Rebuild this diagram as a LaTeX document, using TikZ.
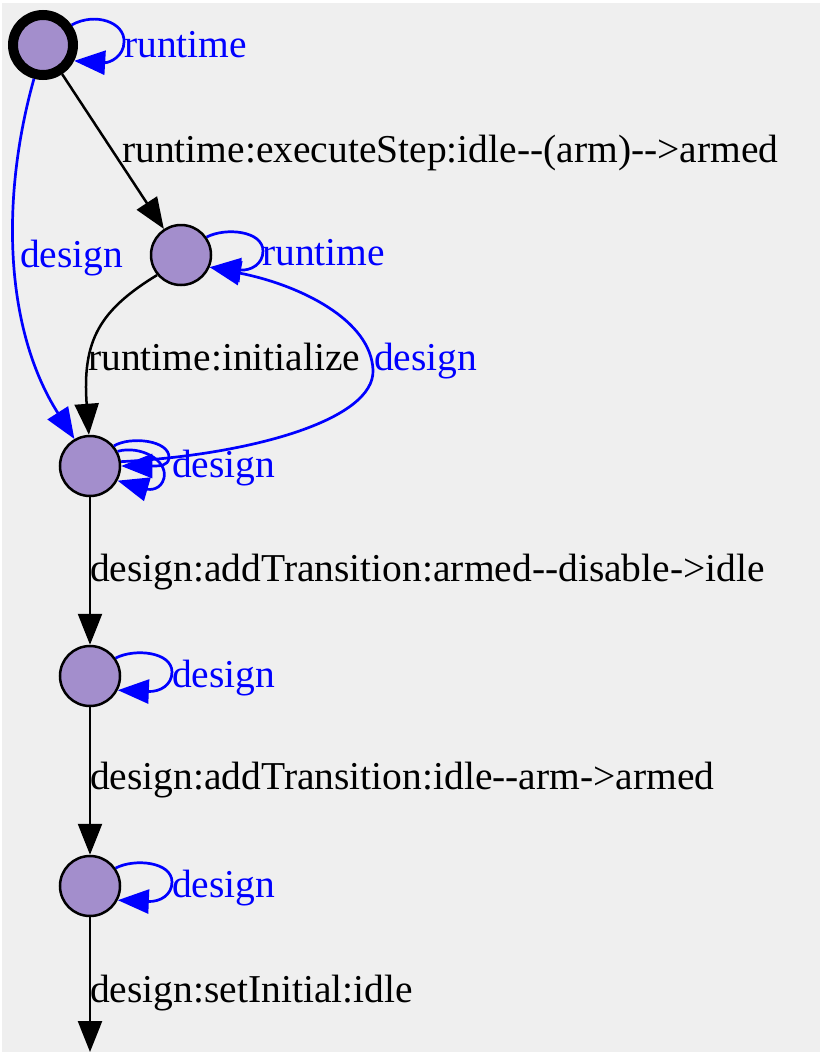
\documentclass[tikz,border=0pt]{standalone}
\usepackage{fontspec}
\setmainfont{Liberation Serif}[Ligatures=TeXOff]
\usetikzlibrary{arrows.meta}
\definecolor{bg}{HTML}{EFEFEF}
\definecolor{nodefill}{HTML}{A38ECC}
\begin{document}
\begin{tikzpicture}[x=1pt,y=-1pt,
  state/.style={circle,draw=black,fill=nodefill,line width=2.5pt,minimum size=60pt,inner sep=0pt},
  initstate/.style={state,line width=10pt},
  lbl/.style={font=\fontsize{39.5}{40}\selectfont,inner sep=0pt,anchor=base west},
  blbl/.style={lbl,text=blue},
  tip/.style={-{Triangle[length=31pt,width=24pt]}},
  blk/.style={tip,draw=black,line width=2.5pt},
  blu/.style={tip,draw=blue,line width=2.7pt},
]
\useasboundingbox (0,0) rectangle (823,1052);
\fill[white] (0,0) rectangle (823,1052);
\fill[bg] (2,3) rectangle (820,1052);

\node[initstate] (n1) at (43,45) {};
\node[state] (n2) at (181,255) {};
\node[state] (n3) at (90,466) {};
\node[state] (n4) at (90,676) {};
\node[state] (n5) at (90,886) {};
\coordinate (end) at (90,1052);

% labels
\node[blbl] (l1) at (124,57) {runtime};
\node[lbl] (l2) at (122,162) {runtime:executeStep:idle--(arm)-->armed};
\node[blbl] (l3) at (20,267) {design};
\node[blbl] (l4) at (262,265) {runtime};
\node[lbl] (l5) at (88,370) {runtime:initialize};
\node[blbl] (l6) at (374,370) {design};
\node[blbl] (l7) at (172,477) {design};
\node[lbl] (l8) at (90,581) {design:addTransition:armed--disable->idle};
\node[blbl] (l9) at (172,687) {design};
\node[lbl] (l10) at (90,789) {design:addTransition:idle--arm->armed};
\node[blbl] (l11) at (172,897) {design};
\node[lbl] (l12) at (90,1002) {design:setInitial:idle};

% black edges
\draw[blk] (n1) -- (n2);
\draw[blk] (n2.-140) .. controls (100,310) and (82,340) .. (n3.92);
\draw[blk] (n3) -- (n4);
\draw[blk] (n4) -- (n5);
\draw[blk] (n5) -- (end);

% blue edges
\draw[blu] (n1.-105) .. controls (0,200) and (5,330) .. (n3.120);
\draw[blu] (n3.8) .. controls (250,455) and (375,420) .. (373,370)
           .. controls (371,320) and (300,285) .. (n2.-23);

% self loops
\draw[blu] (n1.35) .. controls (95,12) and (125,22) .. (124,42)
           .. controls (124,56) and (110,63) .. (n1.-27);
\draw[blu] (n2.35) .. controls (226,227) and (263,231) .. (263,251)
           .. controls (263,264) and (251,271) .. (n2.-23);
\draw[blu] (n3.40) .. controls (130,436) and (170,440) .. (169,458)
           .. controls (168,466) and (160,466) .. (n3.0);
\draw[blu] (n3.28) .. controls (140,445) and (168,460) .. (164,478)
           .. controls (161,490) and (150,490) .. (n3.-28);
\draw[blu] (n4.35) .. controls (135,648) and (172,652) .. (172,672)
           .. controls (172,685) and (160,692) .. (n4.-27);
\draw[blu] (n5.35) .. controls (135,858) and (172,862) .. (172,882)
           .. controls (172,895) and (160,902) .. (n5.-27);
\end{tikzpicture}
\end{document}
